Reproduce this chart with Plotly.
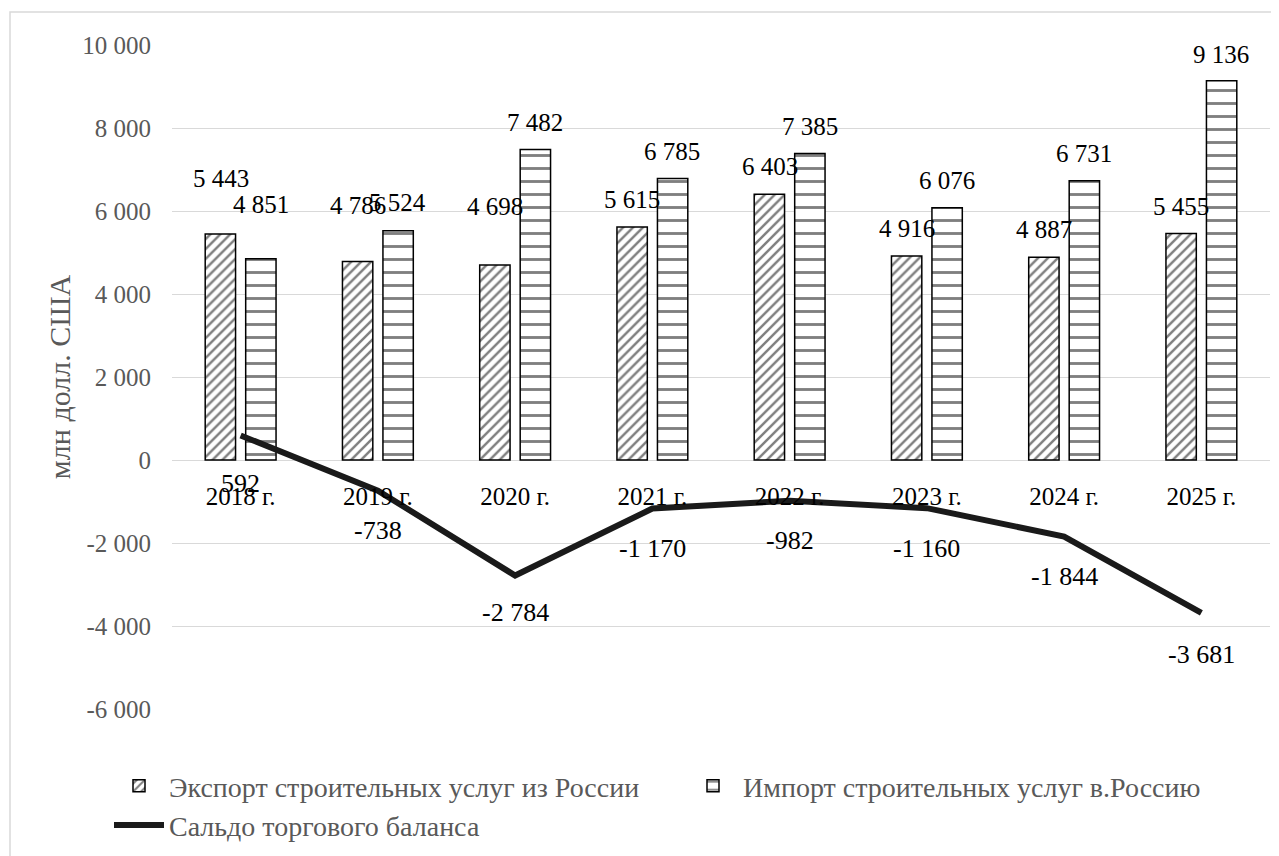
import plotly.graph_objects as go

years = ["2018 г.", "2019 г.", "2020 г.", "2021 г.", "2022 г.", "2023 г.", "2024 г.", "2025 г."]
export_vals = [5443, 4786, 4698, 5615, 6403, 4916, 4887, 5455]
import_vals = [4851, 5524, 7482, 6785, 7385, 6076, 6731, 9136]
saldo_vals = [592, -738, -2784, -1170, -982, -1160, -1844, -3681]
y_ticks = [-6000, -4000, -2000, 0, 2000, 4000, 6000, 8000, 10000]

# label vertical offsets (px) – styling only
export_label_shift = [56, 56, 59, 27, 28, 27, 28, 27]
import_label_shift = [54, 28, 27, 27, 27, 27, 27, 26]
saldo_label_shift = [-48, -40, -37, -40, -40, -40, -40, -42]

FONT = "Liberation Serif"
GREY = "#595959"


def fmt(v):
    return f"{v:,}".replace(",", " ")


fig = go.Figure()
fig.add_trace(go.Bar(
    x=years, y=export_vals, name="Экспорт строительных услуг из России",
    marker=dict(color="white", line=dict(color="black", width=1.5),
                pattern=dict(shape="/", fgcolor="black", bgcolor="white", size=7, solidity=0.35)),
))
fig.add_trace(go.Bar(
    x=years, y=import_vals, name="Импорт строительных услуг в.Россию",
    marker=dict(color="white", line=dict(color="black", width=1.5),
                pattern=dict(shape="-", fgcolor="black", bgcolor="white", size=13, solidity=0.22)),
))
fig.add_trace(go.Scatter(
    x=years, y=saldo_vals, name="Сальдо торгового баланса", mode="lines",
    line=dict(color="#1a1a1a", width=6),
))

annotations = []
for i, yr in enumerate(years):
    annotations.append(dict(x=yr, y=export_vals[i], text=fmt(export_vals[i]), showarrow=False,
                            xshift=-20, yshift=export_label_shift[i],
                            font=dict(family=FONT, size=25, color="black")))
    annotations.append(dict(x=yr, y=import_vals[i], text=fmt(import_vals[i]), showarrow=False,
                            xshift=20, yshift=import_label_shift[i],
                            font=dict(family=FONT, size=25, color="black")))
    annotations.append(dict(x=yr, y=saldo_vals[i], text=fmt(saldo_vals[i]), showarrow=False,
                            yshift=saldo_label_shift[i],
                            font=dict(family=FONT, size=26, color="black")))

L, R, T, B = 164, 17, 37, 155
PW = 1279 - L - R
PH = 856 - T - B

fig.update_layout(
    width=1279, height=856,
    margin=dict(l=L, r=R, t=T, b=B, autoexpand=False),
    paper_bgcolor="white", plot_bgcolor="white",
    barmode="group", bargap=0.41, bargroupgap=0.25,
    font=dict(family=FONT, size=24, color=GREY),
    annotations=annotations,
    showlegend=True,
    legend=dict(orientation="h", x=(101 - L) / PW, y=-(52) / PH, xanchor="left", yanchor="top",
                entrywidth=509, entrywidthmode="pixels", itemwidth=50,
                font=dict(family=FONT, size=28, color=GREY), tracegroupgap=0,
                bgcolor="rgba(0,0,0,0)"),
    shapes=[dict(type="rect", xref="paper", yref="paper",
                 x0=(2 - L) / PW, x1=1.2, y0=-0.5, y1=1 + (T - 4) / PH,
                 line=dict(color="#d9d9d9", width=1.5), fillcolor="rgba(0,0,0,0)", layer="below")],
)
fig.update_xaxes(
    type="category", anchor="free", position=0.375,
    showline=False, showgrid=False, ticks="", ticklabelstandoff=19,
    tickfont=dict(family=FONT, size=25, color="black"),
)
fig.update_yaxes(
    range=[-6000, 10000], tickvals=y_ticks, ticktext=[fmt(v) for v in y_ticks],
    showgrid=True, gridcolor="#d9d9d9", gridwidth=1,
    zeroline=True, zerolinecolor="#d9d9d9", zerolinewidth=1,
    ticks="", ticklabelstandoff=20,
    tickfont=dict(family=FONT, size=25, color=GREY),
    title=dict(text="млн долл. США", standoff=2, font=dict(family=FONT, size=30, color=GREY)),
)

fig.write_html("out.html")
